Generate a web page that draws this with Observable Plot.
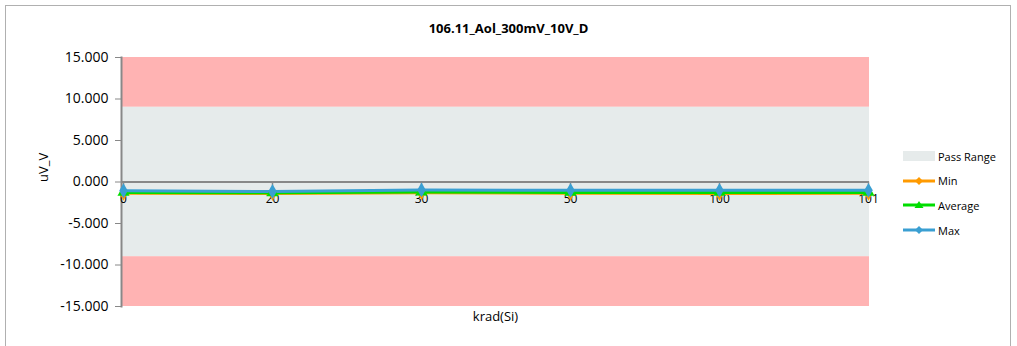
<!DOCTYPE html>
<html><head><meta charset="utf-8">
<script src="https://cdn.jsdelivr.net/npm/d3@7"></script>
<script src="https://cdn.jsdelivr.net/npm/@observablehq/plot@0.6"></script>
<style>
body{margin:0;background:#fff;font-family:"Open Sans","Noto Sans",sans-serif;}
#wrap{position:relative;width:1017px;height:346px;overflow:hidden;}
#border{position:absolute;left:5px;top:5px;width:1006px;height:360px;border:1px solid #b0b0b0;box-sizing:border-box;}
#title{position:absolute;left:0;width:1017px;top:19px;text-align:center;font-weight:bold;font-size:13px;color:#000;}
#legend{position:absolute;left:903px;top:144px;font-size:11px;color:#000;}
.li{display:flex;align-items:center;height:24.6px;}
.sw{width:32px;height:16px;margin-right:3px;position:relative;}
#chart{position:absolute;left:0;top:0;}
</style></head>
<body><div id="wrap"><div id="border"></div><div id="chart"></div><div id="title"></div><div id="legend"></div></div>
<script>
const titleText = "106.11_Aol_300mV_10V_D";
const categories = ["0","20","30","50","100","101"];
const minValues = [-1.35,-1.40,-1.30,-1.35,-1.40,-1.35];
const avgValues = [-1.25,-1.30,-1.20,-1.25,-1.25,-1.25];
const maxValues = [-1.05,-1.15,-0.95,-1.00,-1.00,-1.00];
const yTicks = [-15,-10,-5,0,5,10,15];
const passLow = -9, passHigh = 9, yMin = -15, yMax = 15;
const seriesNames = ["Min","Average","Max"];
const seriesColors = ["#FF9A00","#00DD00","#3A9FD2"];
const seriesSymbols = ["diamond","triangle","diamond"];
const xLabel = "krad(Si)", yLabel = "uV_V";

const rows = [];
[minValues, avgValues, maxValues].forEach((vals, s) => {
  vals.forEach((v, i) => rows.push({series: seriesNames[s], k: categories[i], v}));
});

const bands = [
  {y1: passHigh, y2: yMax, fill: "#FFB3B3"},
  {y1: passLow, y2: passHigh, fill: "#E6EBEB"},
  {y1: yMin, y2: passLow, fill: "#FFB3B3"}
];
const fmt = d => d3.format(".3f")(d).replace("\u2212", "-");

const chart = Plot.plot({
  width: 1017, height: 346,
  marginLeft: 121, marginRight: 148, marginTop: 57, marginBottom: 40,
  style: {fontFamily: '"Open Sans","Noto Sans",sans-serif', fontSize: "13px", background: "transparent", color: "#000"},
  x: {type: "point", domain: categories, padding: 0, axis: null},
  y: {domain: [yMin, yMax], axis: null},
  marks: [
    Plot.rect(bands, {y1: "y1", y2: "y2", fill: "fill"}),
    Plot.ruleY([0], {stroke: "#888", strokeWidth: 2}),
    Plot.ruleX(categories, {x: d => d, y1: 0, y2: 0, insetTop: 0, insetBottom: -6, stroke: "#888", strokeWidth: 1.5}),
    Plot.frame({anchor: "left", stroke: "#888", strokeWidth: 2}),
    Plot.axisY({ticks: yTicks, tickFormat: fmt, tickSize: 6, tickPadding: 7, stroke: "#888", fontSize: 14, label: null}),
    Plot.text([yLabel], {frameAnchor: "left", dx: -78, rotate: -90, text: d => d, fontSize: 13}),
    Plot.text([xLabel], {frameAnchor: "bottom", dy: 14, text: d => d, fontSize: 13}),
    Plot.text(categories, {x: d => d, y: 0, dy: 17, text: d => d, fontSize: 12}),
    Plot.line(rows, {x: "k", y: "v", z: "series", stroke: d => seriesColors[seriesNames.indexOf(d.series)], strokeWidth: 3}),
    Plot.dot(rows, {x: "k", y: "v", fill: d => seriesColors[seriesNames.indexOf(d.series)], symbol: d => seriesSymbols[seriesNames.indexOf(d.series)], r: 4.5})
  ]
});
document.getElementById("chart").appendChild(chart);
document.getElementById("title").textContent = titleText;

const leg = document.getElementById("legend");
const mk = (label, html) => {
  const d = document.createElement("div"); d.className = "li";
  d.innerHTML = `<div class="sw">${html}</div><span>${label}</span>`;
  leg.appendChild(d);
};
mk("Pass Range", `<div style="position:absolute;left:0;top:3px;width:32px;height:10px;background:#E6EBEB"></div>`);
seriesNames.forEach((n, i) => {
  const c = seriesColors[i];
  const sym = seriesSymbols[i] === "triangle"
    ? `<polygon points="16,4 20.5,11 11.5,11" fill="${c}"/>`
    : `<polygon points="16,4 20,8 16,12 12,8" fill="${c}"/>`;
  mk(n, `<svg width="32" height="16"><line x1="0" x2="32" y1="8" y2="8" stroke="${c}" stroke-width="3"/>${sym}</svg>`);
});
</script></body></html>
